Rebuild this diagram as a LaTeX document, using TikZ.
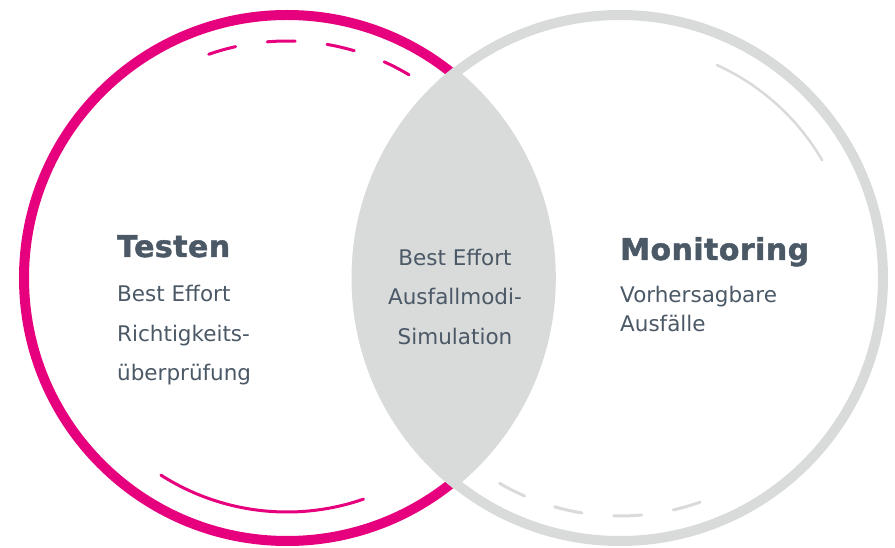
\documentclass[tikz,border=0pt]{standalone}
\usepackage{fontspec}
\setmainfont{DejaVu Sans}
\newfontfamily\headfont{DejaVu Sans}[LetterSpace=1.5, BoldFeatures={FakeBold=1.5}]
\usepackage{xcolor}

\definecolor{tpink}{HTML}{E6007E}
\definecolor{tgray}{HTML}{D8DBDA}
\definecolor{tslate}{HTML}{4B5866}

\tikzset{
  ring/.style={line width=10pt},
  deco/.style={line width=3pt, line cap=round},
  dashdeco/.style={deco, dash pattern=on 28pt off 32pt},
  head/.style={anchor=base west, inner sep=0pt, text=tslate, font=\fontsize{30}{30}\headfont\bfseries},
  body/.style={anchor=base west, inner sep=0pt, text=tslate, font=\fontsize{21.5}{21.5}\selectfont},
  mid/.style={body, anchor=base}
}

\begin{document}
\begin{tikzpicture}[x=1pt,y=1pt]
  \useasboundingbox (0,0) rectangle (895,547);

  % centres of the two rings
  \coordinate (test) at (287,269);
  \coordinate (mon) at (620,269);

  % the rings
  \draw[ring, tpink] (test) circle (263pt);
  \draw[ring, tgray] (mon) circle (263pt);

  % overlap of both rings
  \begin{scope}
    \clip (mon) circle (268.5pt);
    \fill[tgray] (test) circle (268.8pt);
  \end{scope}

  % inner arcs
  \draw[dashdeco, tpink] (test) ++(109.3:237pt) arc[start angle=109.3, end angle=58, radius=237pt];
  \draw[deco, tpink] (test) ++(-122.6:234pt) arc[start angle=-122.6, end angle=-70.9, radius=234pt];
  \draw[deco, tgray, line width=2.5pt] (mon) ++(65.5:234pt) arc[start angle=65.5, end angle=30.2, radius=234pt];
  \draw[dashdeco, tgray] (mon) ++(-120.4:238pt) arc[start angle=-120.4, end angle=-69.9, radius=238pt];

  % left ring
  \node[head] (testen) at (117,290) {Testen};
  \node[body] (testen1) at (117,245) {Best Effort};
  \node[body] (testen2) at (117,205) {Richtigkeits-};
  \node[body] (testen3) at (117,167) {überprüfung};

  % overlap
  \node[mid] (both1) at (455,281) {Best Effort};
  \node[mid] (both2) at (455,242) {Ausfallmodi-};
  \node[mid] (both3) at (455,202) {Simulation};

  % right ring
  \node[head] (monitoring) at (620,287) {Monitoring};
  \node[body] (monitoring1) at (620,244) {Vorhersagbare};
  \node[body] (monitoring2) at (620,215) {Ausfälle};
\end{tikzpicture}
\end{document}
